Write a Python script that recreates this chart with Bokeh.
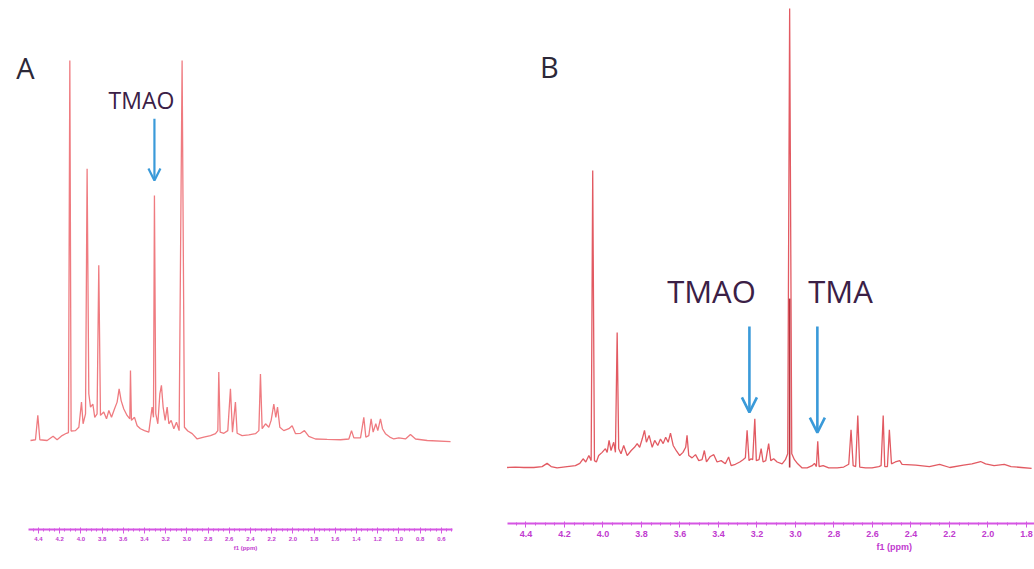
from bokeh.plotting import figure
from bokeh.layouts import row, column
from bokeh.models import (Range1d, SingleIntervalTicker, NumeralTickFormatter,
                          Arrow, OpenHead, Label, Title)
from bokeh.core.properties import value
from bokeh.embed import file_html
from bokeh.resources import INLINE

# ---------------- Panel A: spectrum vertices (chemical shift, intensity) ----------------
a_ppm = [4.475, 4.428, 4.406, 4.387, 4.318, 4.262, 4.224, 4.177, 4.136, 4.117,
         4.104, 4.092, 4.051, 4.019, 3.994, 3.979, 3.956, 3.941, 3.925, 3.909,
         3.887, 3.869, 3.847, 3.831, 3.815, 3.784, 3.758, 3.736, 3.711, 3.683,
         3.658, 3.639, 3.620, 3.595, 3.564, 3.538, 3.532, 3.523, 3.494, 3.469,
         3.438, 3.400, 3.359, 3.328, 3.315, 3.306, 3.293, 3.274, 3.255, 3.240,
         3.224, 3.205, 3.186, 3.170, 3.148, 3.123, 3.098, 3.073, 3.045, 3.023,
         2.991, 2.950, 2.903, 2.840, 2.777, 2.730, 2.708, 2.699, 2.686, 2.651,
         2.614, 2.589, 2.570, 2.542, 2.526, 2.479, 2.416, 2.353, 2.321, 2.306,
         2.290, 2.258, 2.227, 2.205, 2.180, 2.161, 2.145, 2.123, 2.086, 2.038,
         2.007, 1.975, 1.928, 1.891, 1.850, 1.787, 1.677, 1.551, 1.472, 1.447,
         1.425, 1.362, 1.331, 1.312, 1.284, 1.262, 1.243, 1.218, 1.199, 1.174,
         1.155, 1.127, 1.086, 1.048, 1.001, 0.938, 0.891, 0.843, 0.733, 0.513]
a_int = [0.0, 0.2, 6.6, 0.2, 0.0, 1.1, 0.2, 1.3, 1.9, 2.1,
         100.0, 2.5, 2.6, 3.5, 10.1, 4.4, 7.0, 71.5, 12.3, 8.8,
         9.6, 6.1, 7.0, 46.1, 6.6, 7.5, 5.7, 7.9, 6.1, 8.3,
         10.1, 13.6, 10.5, 8.3, 6.6, 5.7, 18.4, 5.3, 6.1, 3.9,
         3.1, 2.6, 2.2, 8.8, 6.1, 64.5, 7.0, 4.4, 12.3, 14.5,
         8.8, 5.3, 8.8, 4.4, 5.3, 3.1, 4.8, 2.6, 100.0, 3.5,
         2.5, 1.8, 0.4, 0.9, 1.3, 1.8, 2.6, 18.0, 2.2, 1.9,
         2.6, 13.6, 2.2, 10.1, 1.9, 1.3, 1.5, 1.8, 2.6, 17.5,
         3.1, 4.4, 3.5, 5.3, 9.6, 6.1, 8.8, 3.5, 2.6, 3.1,
         3.9, 1.8, 1.9, 2.6, 1.1, 0.4, 0.3, 0.2, 0.4, 2.6,
         0.7, 0.7, 6.1, 0.9, 1.3, 5.7, 2.2, 4.4, 2.6, 5.7,
         3.1, 1.8, 0.9, 0.4, 0.7, 0.4, 1.6, 0.4, 0.0, -0.3]

# ---------------- Panel B: spectrum vertices (chemical shift, intensity) ----------------
b_ppm = [4.498, 4.455, 4.411, 4.359, 4.316, 4.290, 4.269, 4.238, 4.186, 4.143,
         4.120, 4.103, 4.089, 4.073, 4.061, 4.053, 4.044, 4.034, 4.022, 4.004,
         3.987, 3.978, 3.968, 3.958, 3.944, 3.935, 3.926, 3.918, 3.906, 3.892,
         3.874, 3.853, 3.836, 3.822, 3.809, 3.796, 3.784, 3.774, 3.760, 3.744,
         3.731, 3.715, 3.701, 3.687, 3.674, 3.661, 3.649, 3.635, 3.618, 3.601,
         3.584, 3.570, 3.563, 3.554, 3.537, 3.519, 3.502, 3.485, 3.473, 3.462,
         3.442, 3.424, 3.407, 3.386, 3.364, 3.347, 3.334, 3.312, 3.289, 3.272,
         3.260, 3.251, 3.241, 3.230, 3.222, 3.211, 3.203, 3.189, 3.178, 3.168,
         3.154, 3.139, 3.128, 3.113, 3.095, 3.069, 3.052, 3.040, 3.030, 3.019,
         3.005, 2.988, 2.965, 2.939, 2.913, 2.901, 2.891, 2.884, 2.877, 2.856,
         2.827, 2.783, 2.749, 2.723, 2.711, 2.700, 2.687, 2.676, 2.666, 2.636,
         2.602, 2.567, 2.555, 2.544, 2.536, 2.522, 2.512, 2.501, 2.481, 2.458,
         2.446, 2.375, 2.304, 2.251, 2.198, 2.127, 2.083, 2.038, 2.012, 1.968,
         1.915, 1.880, 1.826, 1.773]
b_int = [0.0, 0.1, 0.0, 0.0, 0.2, 0.9, 0.2, -0.1, 0.2, 0.4,
         0.9, 1.9, 1.2, 2.6, 1.5, 64.7, 1.5, 1.2, 2.6, 3.3,
         4.1, 3.3, 5.9, 3.7, 5.5, 3.3, 29.4, 4.1, 3.0, 4.8,
         2.6, 3.7, 4.4, 5.2, 4.4, 6.2, 8.1, 5.5, 7.0, 4.4,
         5.9, 4.8, 6.2, 5.2, 6.6, 5.5, 7.5, 4.8, 3.6, 2.6,
         3.3, 4.4, 7.0, 2.6, 2.1, 2.8, 1.5, 1.7, 3.7, 1.2,
         2.4, 2.8, 1.2, 1.5, 0.8, 2.3, 0.4, 0.7, 1.2, 1.7,
         2.1, 8.1, 1.5, 1.9, 1.7, 10.6, 1.5, 1.7, 4.1, 1.2,
         1.5, 5.2, 1.5, 1.9, 1.2, 0.8, 1.7, 3.0, 100.0, 3.0,
         1.7, 0.8, -0.1, -0.1, 0.4, 0.9, 0.2, 5.7, 0.2, 0.4,
         -0.1, -0.1, 0.1, 0.7, 8.2, 0.4, 0.2, 11.3, 0.1, -0.1,
         -0.1, 0.2, 0.4, 11.3, 0.2, 0.2, 8.2, 0.8, 1.2, 1.5,
         0.7, 0.5, 0.2, 0.7, 0.0, 0.5, 0.8, 1.3, 0.8, 0.4,
         0.7, 0.2, 0.0, -0.2]
# darker overlaid trace on the creatinine line
b_core_ppm = [3.030, 3.030]
b_core_int = [0.0, 36.8]

# ---------------- annotations ----------------
a_names = ["TMAO"]
a_name_ppm = [3.428]
a_name_int = [89.5]
a_arrow_ppm = [3.306]
a_arrow_from = [84.7]
a_arrow_to = [68.4]

b_names = ["TMAO", "TMA"]
b_name_ppm = [3.436, 2.766]
b_name_int = [38.4, 38.4]
b_arrow_ppm = [3.239, 2.886]
b_arrow_from = [30.7, 30.7]
b_arrow_to = [12.0, 7.6]

AXIS = "#d556e3"
AXIS_TEXT = "#c13acf"
TEXT = "#3b2046"
ARROW = "#3a9ad9"


def style_axis(p, bounds, label_size, axis_label=None):
    ax = p.xaxis[0]
    ax.ticker = SingleIntervalTicker(interval=0.2, num_minor_ticks=4)
    ax.formatter = NumeralTickFormatter(format="0.0")
    ax.bounds = bounds
    ax.axis_line_color = AXIS
    ax.axis_line_width = 2
    ax.major_tick_line_color = AXIS
    ax.minor_tick_line_color = AXIS
    ax.major_tick_in = 2
    ax.major_tick_out = 4
    ax.minor_tick_in = 1
    ax.minor_tick_out = 2
    ax.major_label_text_color = AXIS_TEXT
    ax.major_label_text_font = "Liberation Sans"
    ax.major_label_text_font_style = "bold"
    ax.major_label_text_font_size = label_size
    ax.major_label_standoff = 3
    if axis_label:
        ax.axis_label = axis_label
        ax.axis_label_text_color = AXIS_TEXT
        ax.axis_label_text_font = "Liberation Sans"
        ax.axis_label_text_font_style = "bold"
        ax.axis_label_text_font_size = label_size
        ax.axis_label_standoff = 1


def base_figure(width, x_range, y_range, bottom):
    p = figure(width=width, height=569, x_range=x_range, y_range=y_range,
               y_axis_type=None, toolbar_location=None, output_backend="svg",
               min_border_left=0, min_border_right=0, min_border_top=0,
               min_border_bottom=bottom)
    p.outline_line_color = None
    p.grid.visible = False
    p.background_fill_color = "white"
    p.border_fill_color = "white"
    return p


# ---------------- Panel A ----------------
pa = base_figure(490, Range1d(4.758, 0.136), Range1d(-23.42, 115.79), 40)
pa.line(a_ppm, a_int, line_color="#ef7b80", line_width=1.3)
style_axis(pa, (0.494, 4.494), "6px", "f1 (ppm)")
pa.text(x=a_name_ppm, y=a_name_int, text=a_names, text_font=value("Open Sans"),
        text_font_size="23px", text_color=TEXT, text_align="center",
        text_baseline="middle")
for xa, y0, y1 in zip(a_arrow_ppm, a_arrow_from, a_arrow_to):
    pa.add_layout(Arrow(x_start=xa, y_start=y0, x_end=xa, y_end=y1,
                        line_color=ARROW, line_width=2.2,
                        end=OpenHead(size=12, line_color=ARROW, line_width=2.2)))
pa.add_layout(Label(x=4.523, y=98.2, text="A", text_font="Open Sans",
                    text_font_size="29px", text_color="#2c2838",
                    text_align="center", text_baseline="middle"))

# ---------------- Panel B ----------------
pb = base_figure(544, Range1d(4.584, 1.758), Range1d(-12.2, 101.74), 46)
pb.line(b_ppm, b_int, line_color="#e25a62", line_width=1.3)
pb.line(b_core_ppm, b_core_int, line_color="#b8323e", line_width=1.6)
style_axis(pb, (1.758, 4.496), "9px")
pb.text(x=b_name_ppm, y=b_name_int, text=b_names, text_font=value("Open Sans"),
        text_font_size="31px", text_color=TEXT, text_align="center",
        text_baseline="middle")
for xa, y0, y1 in zip(b_arrow_ppm, b_arrow_from, b_arrow_to):
    pb.add_layout(Arrow(x_start=xa, y_start=y0, x_end=xa, y_end=y1,
                        line_color=ARROW, line_width=2.6,
                        end=OpenHead(size=15, line_color=ARROW, line_width=2.6)))
pb.add_layout(Label(x=4.278, y=87.4, text="B", text_font="Open Sans",
                    text_font_size="29px", text_color="#2c2838",
                    text_align="center", text_baseline="middle"))
# the shift-axis caption sits off-centre, under the 2.6-2.4 labels
pb.add_layout(Title(text="f1 (ppm)", align="left", offset=386, standoff=0,
                    text_font="Liberation Sans", text_font_style="bold",
                    text_font_size="9px", text_color=AXIS_TEXT), "below")

layout = row(column(pa), column(pb), spacing=0)
open("out.html", "w").write(file_html(layout, INLINE))
